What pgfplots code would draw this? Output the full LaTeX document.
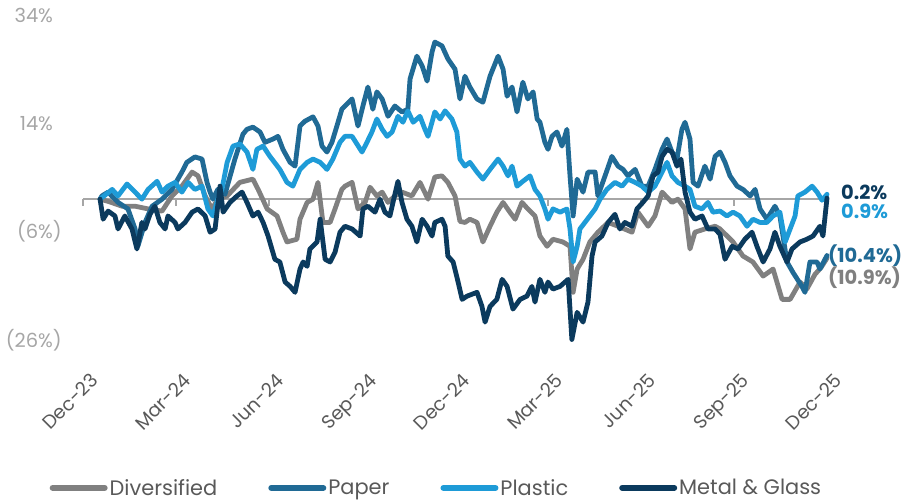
\documentclass[border=0pt]{standalone}
\usepackage{pgfplots}
\pgfplotsset{compat=1.18}
\usepackage{pgfplotstable}
\usepackage{fontspec}
\setmainfont{Poppins}

\definecolor{cDiv}{HTML}{808080}
\definecolor{cPaper}{HTML}{206A95}
\definecolor{cPlastic}{HTML}{1E9BD7}
\definecolor{cMetal}{HTML}{0B3A5D}
\definecolor{cZero}{HTML}{A6A6A6}
\definecolor{cYlab}{HTML}{A6A6A6}
\definecolor{cXlab}{HTML}{595959}

% Cumulative return (%) by month offset from Dec-23
\pgfplotstableread{
m v
0.55 0
0.81 -0.4
1.26 -1.3
1.68 -1.3
2.10 -1.8
2.55 -2.2
2.87 0.6
3.19 2.4
3.52 5.0
3.71 4.3
3.94 0.6
4.16 -1.8
4.35 0
4.65 0.6
5.06 3.1
5.48 3.7
5.65 1.8
5.94 -1.8
6.26 -3.1
6.45 -6.1
6.58 -7.9
6.90 -7.4
7.00 -3.7
7.23 -0.6
7.42 0
7.58 3.1
7.74 -4.3
7.97 -4.3
8.13 -1.8
8.35 1.8
8.45 2.4
8.68 3.1
8.87 -1.8
9.10 -0.6
9.26 2.2
9.48 0.6
9.65 1.3
9.84 -0.6
10.06 0.6
10.29 1.3
10.61 0.6
10.87 3.1
11.13 0
11.35 4.1
11.58 4.3
11.77 3.1
12.00 0.6
12.16 -4.1
12.32 -4.3
12.48 -3.7
12.71 -4.3
12.90 -7.9
13.13 -5.0
13.35 -2.4
13.55 -0.6
13.77 -2.4
13.94 -3.7
14.16 -0.6
14.35 -1.8
14.58 -3.1
14.74 -6.8
14.97 -8.7
15.16 -7.4
15.48 -7.9
15.71 -8.7
15.81 -17.2
15.94 -12.9
16.13 -11.1
16.35 -7.9
16.61 -6.1
16.94 -4.3
17.26 -5.0
17.71 -6.1
17.90 -2.4
18.23 -5.0
18.45 -3.1
18.68 1.3
19.00 -0.6
19.19 0
19.42 -1.8
19.58 -9.2
19.74 -6.1
20.06 -5.5
20.39 -5.0
20.55 -5.5
20.97 -7.9
21.29 -10.5
21.61 -11.6
21.94 -14.2
22.26 -12.9
22.55 -18.5
22.81 -18.5
23.13 -15.3
23.35 -16.6
23.61 -13.9
23.81 -12.6
24.00 -10.9
}\divtab

\pgfplotstableread{
m v
0.55 0
0.61 0.6
0.81 1.3
1.13 -0.6
1.45 -1.8
1.68 -5.5
1.77 -8.7
2.00 -4.3
2.23 -1.3
2.55 0
2.87 1.8
3.19 5.0
3.35 6.8
3.61 7.8
3.84 7.4
4.00 3.1
4.10 1.3
4.19 0
4.35 1.8
4.58 0.9
4.90 7.4
5.16 12.0
5.29 12.9
5.48 13.3
5.71 12.4
5.87 10.5
6.13 11.1
6.29 11.6
6.45 9.2
6.68 6.8
6.84 6.1
7.00 13.5
7.16 14.4
7.42 15.2
7.58 13.5
7.71 9.8
7.87 8.7
8.03 10.5
8.19 13.5
8.35 16.6
8.45 17.2
8.68 18.5
8.87 13.5
9.03 17.2
9.19 20.7
9.35 16.6
9.48 19.8
9.65 18.5
9.84 15.3
10.06 17.2
10.29 16.1
10.48 16.6
10.55 22.2
10.77 26.4
10.94 24.6
11.10 21.8
11.26 27.2
11.35 29.0
11.58 28.3
11.77 25.9
12.00 24.0
12.16 18.5
12.32 22.7
12.48 20.7
12.71 18.5
12.90 17.9
13.13 22.7
13.39 26.4
13.55 24.0
13.68 19.0
13.84 20.7
14.00 16.1
14.19 21.6
14.35 18.5
14.52 19.8
14.65 14.8
14.74 14.2
14.90 10.5
15.00 9.2
15.13 11.6
15.29 12.4
15.45 9.8
15.61 12.9
15.71 4.3
15.81 -3.1
15.94 3.7
16.13 1.3
16.29 5.0
16.52 5.0
16.61 0.6
16.84 4.3
17.06 7.9
17.26 6.1
17.42 5.5
17.58 4.3
17.81 5.5
18.03 2.4
18.23 2.4
18.45 5.5
18.68 9.2
18.84 11.1
19.00 8.7
19.16 7.4
19.32 12.9
19.42 14.2
19.58 11.1
19.68 3.1
19.84 2.4
20.06 6.1
20.23 3.7
20.39 7.9
20.55 8.7
20.71 6.8
20.87 4.3
21.10 2.4
21.29 1.8
21.52 0.6
21.68 1.8
21.84 -1.8
22.06 -3.7
22.32 -1.3
22.48 -3.1
22.71 -11.6
22.90 -13.5
23.19 -16.1
23.29 -17.2
23.45 -11.6
23.68 -11.6
23.77 -12.9
24.00 -10.4
}\papertab

\pgfplotstableread{
m v
0.55 0
0.94 1.8
1.13 0.6
1.42 2.8
1.68 1.3
1.90 0
2.10 1.8
2.39 3.3
2.55 1.3
2.74 2.4
2.97 3.1
3.19 1.3
3.39 3.1
3.61 1.8
3.84 2.4
4.03 -1.8
4.19 -3.1
4.35 0
4.48 1.8
4.65 6.8
4.84 9.8
5.06 10.2
5.29 8.7
5.48 5.5
5.61 9.2
5.81 9.8
6.03 7.9
6.35 5.5
6.58 3.1
6.77 2.4
7.00 5.5
7.23 6.8
7.42 7.4
7.65 6.8
7.87 5.5
8.06 7.4
8.29 10.5
8.45 11.6
8.68 11.6
9.00 8.7
9.16 10.5
9.32 12.4
9.48 14.8
9.65 12.9
9.81 11.6
9.97 12.4
10.16 15.3
10.32 14.2
10.48 16.3
10.65 14.2
10.87 15.3
11.03 12.9
11.13 11.6
11.35 16.1
11.52 14.8
11.68 16.3
11.90 14.8
12.06 12.4
12.16 7.4
12.32 6.1
12.48 6.8
12.71 5.0
12.90 3.7
13.13 5.5
13.39 7.4
13.55 6.1
13.71 4.3
13.84 6.1
14.00 2.4
14.19 3.3
14.42 4.3
14.58 1.8
14.74 0.6
14.90 -1.8
15.00 -3.7
15.16 -1.8
15.39 -2.4
15.61 -1.8
15.71 -5.5
15.81 -11.6
15.94 -8.7
16.03 -5.5
16.19 -4.3
16.35 -3.1
16.52 -1.8
16.68 0
16.90 1.8
17.16 3.1
17.39 2.4
17.58 3.7
17.81 3.1
18.03 2.4
18.23 1.3
18.45 2.4
18.68 5.0
18.84 6.8
19.00 4.3
19.19 3.1
19.42 2.4
19.58 1.8
19.74 -1.3
19.97 -1.8
20.16 -0.6
20.32 -2.4
20.55 -2.2
20.77 -3.1
20.97 -2.4
21.19 -3.1
21.42 -5.0
21.61 -3.7
21.84 -4.3
22.06 -4.3
22.26 -3.1
22.48 -2.4
22.65 -7.9
22.81 -5.5
22.97 -3.1
23.06 0.6
23.29 1.3
23.52 2.4
23.68 1.3
23.84 -0.2
24.00 0.9
}\plastictab

\pgfplotstableread{
m v
0.55 0
0.65 -3.7
0.81 -2.2
1.03 -3.1
1.13 -5.5
1.35 -3.1
1.58 -5.5
1.74 -9.2
1.90 -4.3
2.00 -5.5
2.16 -2.8
2.32 -1.3
2.48 -4.3
2.65 -5.5
2.74 -3.1
2.97 -4.3
3.06 -5.5
3.29 -4.3
3.52 -2.4
3.71 -1.8
3.94 -3.1
4.10 -6.1
4.26 -5.5
4.42 2.4
4.52 -2.4
4.74 -0.6
4.97 0.6
5.13 1.3
5.29 -0.6
5.48 -3.1
5.65 -2.4
5.81 -4.3
5.97 -6.8
6.19 -11.1
6.35 -11.6
6.52 -15.3
6.68 -16.1
6.84 -17.2
7.00 -12.9
7.10 -11.6
7.23 -12.4
7.32 -9.2
7.55 -7.9
7.65 -3.7
7.81 -11.1
7.97 -11.6
8.13 -9.8
8.29 -6.1
8.45 -5.0
8.68 -5.5
8.94 -6.8
9.03 -1.8
9.19 -1.3
9.42 -2.4
9.58 0
9.74 -2.4
9.90 -3.1
10.00 -0.6
10.16 3.3
10.29 -0.6
10.45 -3.7
10.61 -5.0
10.77 -7.9
10.94 -3.7
11.10 -5.0
11.26 -6.8
11.35 -4.3
11.58 -3.7
11.68 -5.0
11.77 -10.5
11.94 -11.6
12.10 -15.3
12.23 -18.5
12.39 -17.9
12.71 -17.2
12.87 -19.8
12.97 -22.7
13.13 -19.8
13.35 -18.5
13.52 -14.8
13.68 -16.1
13.87 -20.3
14.10 -18.5
14.32 -17.9
14.48 -16.1
14.58 -19.0
14.74 -14.8
14.90 -17.2
15.00 -15.3
15.16 -16.6
15.39 -16.1
15.55 -15.3
15.65 -14.8
15.77 -25.9
15.94 -20.9
16.13 -22.7
16.29 -19.0
16.42 -10.5
16.52 -7.9
16.74 -6.8
16.94 -4.3
17.16 -2.8
17.32 -5.5
17.48 -4.3
17.71 -5.0
17.87 -1.8
18.06 -0.6
18.23 0.6
18.39 4.3
18.55 5.0
18.68 7.9
18.84 9.2
19.00 8.7
19.16 6.1
19.29 7.4
19.42 1.3
19.58 -2.4
19.74 -3.7
19.97 -3.1
20.16 -5.5
20.39 -5.5
20.55 -6.5
20.71 -11.1
20.94 -8.7
21.13 -9.2
21.35 -7.4
21.58 -6.1
21.74 -8.7
21.94 -11.6
22.16 -9.2
22.32 -6.1
22.48 -8.7
22.71 -11.6
22.87 -9.2
23.13 -7.9
23.35 -7.4
23.55 -6.8
23.77 -5.0
23.87 -6.8
24.00 0.2
}\metaltab

\begin{document}
\begin{tikzpicture}
\useasboundingbox (0bp,0bp) rectangle (903bp,502bp);
\begin{axis}[
  at={(83bp,162bp)}, anchor=south west,
  scale only axis, width=744bp, height=325bp,
  xmin=0, xmax=24, ymin=-26, ymax=34,
  clip=false,
  axis line style={draw=none},
  tick style={draw=none},
  xtick={0,3,...,24},
  xticklabels={Dec-23,Mar-24,Jun-24,Sep-24,Dec-24,Mar-25,Jun-25,Sep-25,Dec-25},
  xticklabel style={rotate=45, anchor=north east, text=cXlab, font=\fontsize{19}{22}\selectfont, inner sep=0pt, xshift=-18bp, yshift=-27bp},
  ytick={-26,-6,14,34},
  yticklabels={(26\%),(6\%),14\%\phantom{)},34\%\phantom{)}},
  yticklabel style={anchor=east, text=cYlab, font=\fontsize{19.5}{22}\selectfont, inner sep=0pt, xshift=-21bp},
  legend columns=4,
  legend style={draw=none, fill=none, at={(0.475,-0.455)}, anchor=center,
    font=\fontsize{21}{24}\selectfont, text=cXlab, inner sep=0pt,
    /tikz/every even column/.append style={column sep=49bp}},
  legend image code/.code={\draw[line width=6bp, line cap=round] (0bp,0bp) -- (52bp,0bp);},
  every axis plot/.append style={line width=4.8bp, line join=round, line cap=round},
]
% zero line with quarterly ticks
\addplot[cZero, line width=2.2bp, line cap=butt, forget plot] coordinates {(0,0) (24,0)};
\foreach \q in {0,3,...,24} {
  \edef\tmp{\noexpand\draw[cZero, line width=1.6bp] (axis cs:\q,0) -- (axis cs:\q,-1.2);}
  \tmp
}
\addplot[cDiv] table[x=m,y=v] {\divtab};
\addlegendentry{Diversified}
\addplot[cPaper] table[x=m,y=v] {\papertab};
\addlegendentry{Paper}
\addplot[cPlastic] table[x=m,y=v] {\plastictab};
\addlegendentry{Plastic}
\addplot[cMetal] table[x=m,y=v] {\metaltab};
\addlegendentry{Metal \& Glass}

\node[anchor=west, text=cMetal, font=\fontsize{19.5}{22}\selectfont\bfseries, inner sep=0pt] at (axis cs:24.45,1.3) {0.2\%};
\node[anchor=west, text=cPlastic, font=\fontsize{19.5}{22}\selectfont\bfseries, inner sep=0pt] at (axis cs:24.45,-2.2) {0.9\%};
\node[anchor=west, text=cPaper, font=\fontsize{19.5}{22}\selectfont\bfseries, inner sep=0pt] at (axis cs:24.03,-10.5) {(10.4\%)};
\node[anchor=west, text=cDiv, font=\fontsize{19.5}{22}\selectfont\bfseries, inner sep=0pt] at (axis cs:24.03,-14.4) {(10.9\%)};
\end{axis}
\end{tikzpicture}
\end{document}
